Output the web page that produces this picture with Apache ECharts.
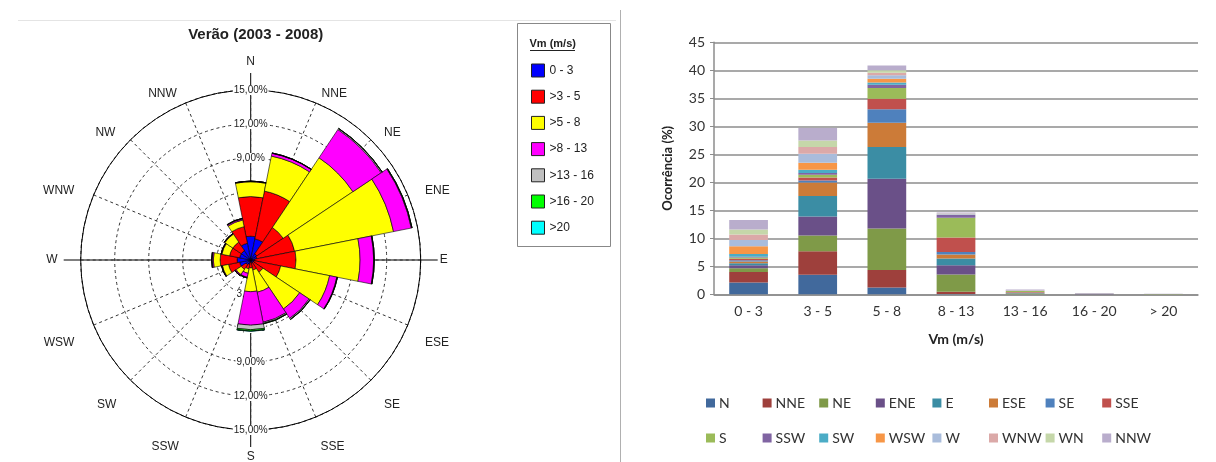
<!DOCTYPE html>
<html>
<head>
<meta charset="utf-8">
<script src="https://cdn.jsdelivr.net/npm/echarts@6/dist/echarts.min.js"></script>
<style>
  html, body { margin: 0; padding: 0; background: #fff; }
  #chart { width: 1216px; height: 462px; }
</style>
</head>
<body>
<div id="chart"></div>
<script>
// Wind directions (rose labels) and the names used in the bar legend
const directions = ['N', 'NNE', 'NE', 'ENE', 'E', 'ESE', 'SE', 'SSE', 'S', 'SSW', 'SW', 'WSW', 'W', 'WNW', 'NW', 'NNW'];
const barSeriesNames = ['N', 'NNE', 'NE', 'ENE', 'E', 'ESE', 'SE', 'SSE', 'S', 'SSW', 'SW', 'WSW', 'W', 'WNW', 'WN', 'NNW'];

// Speed classes (m/s)
const speedClasses = ['0 - 3', '3 - 5', '5 - 8', '8 - 13', '13 - 16', '16 - 20', '> 20'];
const roseClasses = ['0 - 3', '>3 - 5', '>5 - 8', '>8 - 13', '>13 - 16', '>16 - 20', '>20'];

// Wind rose: frequency (%) per direction (N ... NNW) for each speed class
const rose0to3   = [2.1, 1.9, 0.65, 0.55, 0.35, 0.3, 0.3, 0.3, 0.2, 0.4, 0.5, 1.0, 1.2, 1.0, 1.0, 1.5];
const rose3to5   = [3.5, 4.3, 2.8, 3.4, 3.65, 2.4, 1.0, 0.6, 0.5, 0.4, 0.5, 1.0, 1.5, 0.9, 0.9, 1.5];
const rose5to8   = [1.3, 3.15, 7.4, 8.9, 5.65, 4.4, 3.9, 2.0, 2.1, 0.4, 0.55, 0.55, 0.6, 0.7, 0.85, 0.6];
const rose8to13  = [0.05, 0.25, 3.0, 1.6, 1.2, 0.65, 1.0, 2.7, 2.95, 0.35, 0.1, 0.05, 0.1, 0.05, 0.05, 0.1];
const rose13to16 = [0, 0.03, 0.1, 0.05, 0.05, 0.05, 0.1, 0.1, 0.4, 0.05, 0.02, 0.02, 0.05, 0.02, 0.02, 0.05];
const rose16to20 = [0, 0, 0.02, 0.02, 0, 0, 0.02, 0.05, 0.12, 0.02, 0, 0, 0, 0, 0, 0];
const roseOver20 = [0, 0, 0, 0, 0, 0, 0, 0, 0.03, 0, 0, 0, 0, 0, 0, 0];

// Bar chart: occurrence (%) of each direction, one value per speed class
const occN   = [2.1, 3.5, 1.2, 0.05, 0, 0, 0];
const occNNE = [1.9, 4.2, 3.15, 0.4, 0.03, 0, 0];
const occNE  = [0.65, 2.8, 7.4, 3.1, 0.1, 0.02, 0];
const occENE = [0.55, 3.4, 8.9, 1.65, 0.05, 0.02, 0];
const occE   = [0.35, 3.65, 5.65, 1.2, 0.05, 0, 0];
const occESE = [0.3, 2.4, 4.35, 0.7, 0.05, 0, 0];
const occSE  = [0.25, 0.35, 2.4, 0.45, 0.05, 0, 0];
const occSSE = [0.25, 0.55, 1.85, 2.6, 0.1, 0.02, 0];
const occS   = [0.2, 0.5, 1.95, 3.5, 0.15, 0.05, 0.05];
const occSSW = [0.15, 0.3, 0.55, 0.5, 0.05, 0.05, 0.02];
const occSW  = [0.5, 0.6, 0.4, 0.05, 0, 0, 0];
const occWSW = [1.4, 1.25, 0.7, 0.05, 0.02, 0, 0];
const occW   = [1.1, 1.6, 0.6, 0.1, 0.05, 0, 0];
const occWNW = [1.0, 1.2, 0.45, 0.05, 0.02, 0, 0];
const occWN  = [0.85, 1.15, 0.45, 0.05, 0.02, 0, 0];
const occNNW = [1.7, 2.25, 0.85, 0.15, 0.1, 0.05, 0.05];

// Rose rings (%) and bar axis ticks
const ringValues = [3, 6, 9, 12, 15];
const barTicks = [0, 5, 10, 15, 20, 25, 30, 35, 40, 45];

const roseByClass = [rose0to3, rose3to5, rose5to8, rose8to13, rose13to16, rose16to20, roseOver20];
const barByDirection = [occN, occNNE, occNE, occENE, occE, occESE, occSE, occSSE,
                        occS, occSSW, occSW, occWSW, occW, occWNW, occWN, occNNW];

// Styling
const roseColors = ['#0000ff', '#ff0000', '#ffff00', '#ff00ff', '#c0c0c0', '#00ff00', '#00ffff'];
const barColors = ['#41699c', '#9e403c', '#7f9a48', '#6a5088', '#3b8da4', '#cc7b38',
                   '#4f81bd', '#c0504d', '#9bbb59', '#8064a2', '#4bacc6', '#f79646',
                   '#a9bcdb', '#dba9a8', '#c5d7a9', '#b9adcc'];
const roseCenter = [250.7, 260];
const roseRadius = 170;
const roseFont = '"Liberation Sans", Arial, sans-serif';
const barFont = 'Lato, "Open Sans", sans-serif';
const gridGray = '#8c8c8c';

const chart = echarts.init(document.getElementById('chart'));

const ringMax = ringValues[ringValues.length - 1];
const ringStep = ringValues[1] - ringValues[0];
const pct = v => (v === 0 ? '' : v.toFixed(2).replace('.', ',') + '%');

const ringLabelAxis = idx => ({
  polarIndex: idx, type: 'value', min: 0, max: ringMax, interval: ringStep,
  axisLine: { show: false }, axisTick: { show: false }, splitLine: { show: false },
  axisLabel: {
    show: true, formatter: pct, margin: 0, rotate: 0,
    align: 'center', verticalAlign: 'middle',
    fontFamily: roseFont, fontSize: 10, color: '#222',
    backgroundColor: '#fff', padding: [0, 1]
  }
});

// Placement tweaks for the compass labels around the rose
const dirText = { fontFamily: roseFont, fontSize: 12, color: '#222' };
const dirLabelStyle = {
  N:   { lineHeight: 36 },
  NNE: { lineHeight: 1, padding: [0, 0, 0, 2] },
  NE:  { lineHeight: 1, padding: [0, 0, 0, 6] },
  ENE: { lineHeight: 1, padding: [0, 0, 0, 8] },
  E:   { padding: [0, 0, 0, 9] },
  ESE: { lineHeight: 28, padding: [0, 0, 0, 8] },
  SE:  { lineHeight: 34, padding: [0, 0, 0, 6] },
  SSE: { lineHeight: 40, padding: [0, 0, 0, 1] },
  S:   { lineHeight: 34 },
  SSW: { lineHeight: 40, padding: [0, 3, 0, 0] },
  SW:  { lineHeight: 34, padding: [0, 7, 0, 0] },
  WSW: { lineHeight: 28, padding: [0, 10, 0, 0] },
  W:   { padding: [0, 13, 0, 0] },
  WNW: { lineHeight: 1, padding: [0, 10, 0, 0] },
  NW:  { lineHeight: 1, padding: [0, 8, 0, 0] },
  NNW: { lineHeight: 1, padding: [0, 5, 0, 0] }
};
const dirRich = {};
Object.keys(dirLabelStyle).forEach(k => { dirRich[k] = Object.assign({}, dirText, dirLabelStyle[k]); });

const roseSeries = roseClasses.map((name, k) => ({
  type: 'bar', name, coordinateSystem: 'polar', polarIndex: 0, stack: 'rose',
  barCategoryGap: '0%',
  data: roseByClass[k],
  itemStyle: { color: roseColors[k], borderColor: '#000', borderWidth: 0.6 },
  silent: true
}));

const barSeries = barSeriesNames.map((name, i) => ({
  type: 'bar', name, xAxisIndex: 0, yAxisIndex: 0, stack: 'total',
  barWidth: '56%',
  data: barByDirection[i],
  itemStyle: { color: barColors[i] },
  silent: true
}));

// One legend entry per slot so the bar legend keeps even columns
const barLegends = barSeriesNames.map((name, i) => ({
  data: [name],
  left: 701 + (i % 8) * 56.6,
  top: i < 8 ? 391 : 426,
  icon: 'rect', itemWidth: 9, itemHeight: 9, itemGap: 0,
  textStyle: { fontFamily: barFont, fontSize: 14, color: '#333', padding: [0, 0, 0, -1] },
  selectedMode: false
}));

const axisCross = roseRadius + 17;

chart.setOption({
  animation: false,
  backgroundColor: '#fff',
  title: {
    text: 'Verão (2003 - 2008)',
    left: roseCenter[0], top: 22, textAlign: 'center',
    textStyle: { fontFamily: roseFont, fontSize: 15, fontWeight: 'bold', color: '#222' }
  },
  polar: [
    { center: roseCenter, radius: roseRadius },
    { center: roseCenter, radius: roseRadius },
    { center: roseCenter, radius: roseRadius }
  ],
  angleAxis: [
    {
      polarIndex: 0, type: 'category', data: directions, startAngle: 90 + 180 / directions.length,
      axisLine: { show: true, lineStyle: { color: '#000', width: 1 } },
      axisTick: { show: false }, splitLine: { show: false },
      axisLabel: {
        show: true, margin: 10,
        fontFamily: roseFont, fontSize: 12, color: '#222',
        formatter: v => '{' + v + '|' + v + '}',
        rich: dirRich
      }
    },
    {
      polarIndex: 1, type: 'category', data: directions, startAngle: 90,
      axisLine: { show: false }, axisTick: { show: false }, axisLabel: { show: false },
      splitLine: { show: true, lineStyle: { color: '#333', width: 1, type: [3, 3] } }
    },
    {
      polarIndex: 2, type: 'category', data: directions, startAngle: 270,
      axisLine: { show: false }, axisTick: { show: false }, axisLabel: { show: false },
      splitLine: { show: false }
    }
  ],
  radiusAxis: [
    {
      polarIndex: 0, type: 'value', min: 0, max: ringMax, interval: ringStep,
      axisLine: { show: false }, axisTick: { show: false }, axisLabel: { show: false },
      splitLine: { show: true, lineStyle: { color: '#333', width: 1, type: [3, 3] } }
    },
    ringLabelAxis(1),
    ringLabelAxis(2)
  ],
  grid: { left: 714, right: 18, top: 42.3, bottom: 167.7, containLabel: false },
  xAxis: {
    type: 'category', data: speedClasses,
    axisLine: { show: true, lineStyle: { color: gridGray, width: 1.5 } },
    axisTick: { show: false },
    axisLabel: { fontFamily: barFont, fontSize: 14, color: '#333', margin: 10 },
    name: 'Vm (m/s)', nameLocation: 'middle', nameGap: 38,
    nameTextStyle: { fontFamily: barFont, fontSize: 14, fontWeight: 'bold', color: '#222' }
  },
  yAxis: {
    type: 'value', min: barTicks[0], max: barTicks[barTicks.length - 1], interval: barTicks[1] - barTicks[0],
    axisLine: { show: true, lineStyle: { color: gridGray, width: 1.5 } },
    axisTick: { show: true, length: 4, lineStyle: { color: gridGray, width: 1 } },
    splitLine: { show: true, lineStyle: { color: gridGray, width: 1.5 } },
    axisLabel: { fontFamily: barFont, fontSize: 14, color: '#333', margin: 9 },
    name: 'Ocorrência (%)', nameLocation: 'middle', nameGap: 40, nameRotate: 90,
    nameTextStyle: { fontFamily: barFont, fontSize: 13, fontWeight: 'bold', color: '#222' }
  },
  legend: [
    {
      data: roseClasses, orient: 'vertical', left: 526, top: 58.5,
      icon: 'rect', itemWidth: 13, itemHeight: 13, itemGap: 12.2,
      itemStyle: { borderColor: '#222', borderWidth: 1 },
      textStyle: { fontFamily: roseFont, fontSize: 12, color: '#222' },
      selectedMode: false
    },
    ...barLegends
  ],
  graphic: [
    // compass cross through the rose
    { type: 'line', z: -1, shape: { x1: roseCenter[0], y1: roseCenter[1] - axisCross, x2: roseCenter[0], y2: roseCenter[1] + axisCross },
      style: { stroke: '#000', lineWidth: 1 } },
    { type: 'line', z: -1, shape: { x1: roseCenter[0] - axisCross, y1: roseCenter[1], x2: roseCenter[0] + axisCross, y2: roseCenter[1] },
      style: { stroke: '#000', lineWidth: 1 } },
    // legend frame and heading of the rose
    { type: 'rect', shape: { x: 517.5, y: 23.5, width: 93, height: 223 },
      style: { fill: 'none', stroke: '#888', lineWidth: 1 } },
    { type: 'text', x: 552.7, y: 44, style: { text: 'Vm (m/s)', align: 'center', verticalAlign: 'middle',
      font: 'bold 11px ' + roseFont, fill: '#222' } },
    { type: 'line', shape: { x1: 530, y1: 50.5, x2: 575, y2: 50.5 }, style: { stroke: '#222', lineWidth: 1 } },
    // panel frames
    { type: 'line', shape: { x1: 18, y1: 20.5, x2: 616, y2: 20.5 }, style: { stroke: '#e4e4e4', lineWidth: 1 } },
    { type: 'line', shape: { x1: 620.5, y1: 10, x2: 620.5, y2: 462 }, style: { stroke: '#b0b0b0', lineWidth: 1 } }
  ],
  series: [...roseSeries, ...barSeries]
});
</script>
</body>
</html>
